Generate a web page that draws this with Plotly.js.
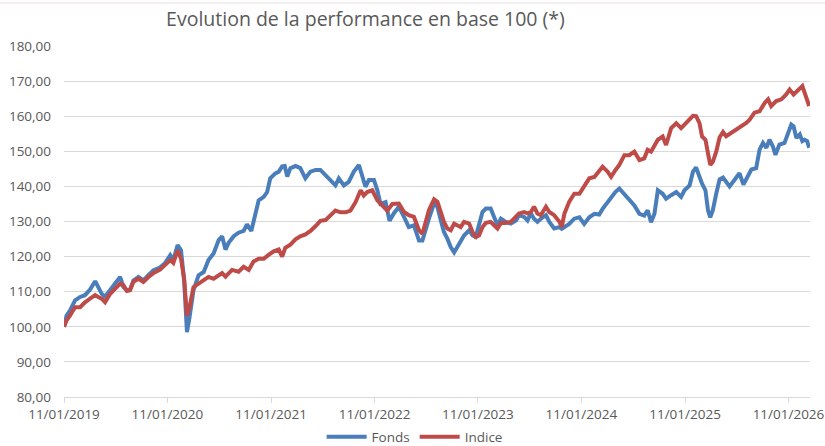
<!DOCTYPE html>
<html>
<head>
<meta charset="utf-8">
<script src="https://cdn.plot.ly/plotly-3.0.1.min.js"></script>
<style>html,body{margin:0;padding:0;background:#fff;}#chart{width:825px;height:446px;}</style>
</head>
<body>
<div id="chart"></div>
<script>
const fondsDates = ['2019-01-11','2019-01-20','2019-02-01','2019-02-19','2019-03-09','2019-03-26','2019-04-13','2019-05-01','2019-05-12','2019-05-24','2019-06-05','2019-06-23','2019-07-10','2019-07-28','2019-08-09','2019-08-21','2019-09-01','2019-09-13','2019-10-01','2019-10-18','2019-11-05','2019-11-23','2019-12-16','2020-01-03','2020-01-21','2020-02-01','2020-02-16','2020-02-28','2020-03-10','2020-03-20','2020-03-29','2020-04-12','2020-04-30','2020-05-18','2020-06-04','2020-06-22','2020-07-10','2020-07-22','2020-08-03','2020-08-14','2020-09-01','2020-09-18','2020-10-06','2020-10-18','2020-11-02','2020-11-14','2020-11-28','2020-12-16','2020-12-28','2021-01-08','2021-01-26','2021-02-07','2021-02-19','2021-02-28','2021-03-09','2021-03-20','2021-04-07','2021-04-24','2021-05-12','2021-05-30','2021-06-17','2021-07-04','2021-07-22','2021-08-09','2021-08-26','2021-09-07','2021-09-25','2021-10-12','2021-10-30','2021-11-17','2021-11-29','2021-12-10','2021-12-22','2022-01-09','2022-01-21','2022-02-01','2022-02-19','2022-03-05','2022-03-20','2022-04-07','2022-04-25','2022-05-12','2022-05-30','2022-06-17','2022-06-29','2022-07-11','2022-07-22','2022-08-09','2022-08-21','2022-09-02','2022-09-13','2022-09-25','2022-10-07','2022-10-19','2022-10-31','2022-11-11','2022-11-23','2022-12-11','2022-12-23','2023-01-03','2023-01-15','2023-01-27','2023-02-08','2023-02-25','2023-03-09','2023-03-21','2023-04-02','2023-04-19','2023-05-07','2023-05-25','2023-06-05','2023-06-23','2023-07-05','2023-07-17','2023-07-28','2023-08-09','2023-08-21','2023-09-08','2023-09-20','2023-10-07','2023-10-25','2023-11-03','2023-11-12','2023-11-29','2023-12-17','2024-01-04','2024-01-21','2024-02-08','2024-02-26','2024-03-14','2024-03-26','2024-04-13','2024-04-25','2024-05-10','2024-05-24','2024-06-11','2024-06-28','2024-07-16','2024-08-03','2024-08-20','2024-09-01','2024-09-13','2024-09-25','2024-10-07','2024-10-24','2024-11-05','2024-11-23','2024-12-11','2024-12-28','2025-01-09','2025-01-27','2025-02-08','2025-02-19','2025-03-03','2025-03-12','2025-03-24','2025-04-02','2025-04-10','2025-04-19','2025-05-01','2025-05-13','2025-05-25','2025-06-05','2025-06-17','2025-07-05','2025-07-22','2025-08-05','2025-08-21','2025-09-02','2025-09-19','2025-10-01','2025-10-13','2025-10-25','2025-11-05','2025-11-17','2025-11-26','2025-12-10','2025-12-28','2026-01-09','2026-01-21','2026-01-29','2026-02-08','2026-02-20','2026-03-01','2026-03-09','2026-03-18','2026-03-25'];
const fonds = [100,103.2,104.6,107.5,108.5,109,110.6,113,111.3,109.4,108.6,110.4,112.3,114.2,111.3,110.4,110.6,113.2,114.2,113.2,114.7,116.1,116.9,118.2,120.4,119,123.3,121.8,113.2,98.5,102.7,110.4,114.7,115.6,119,120.9,124.7,125.8,122,123.9,125.8,126.8,127.3,129.2,127.3,131.2,136,137,138.4,142.3,143.7,144.2,145.7,145.8,142.8,145.2,145.8,145.2,142.3,144.2,144.7,144.7,143.2,141.8,140.3,142.3,140.3,141.3,144.2,146.1,142.8,139.9,141.8,141.8,138.9,135,135.5,130.2,132.3,134.2,131.3,128.4,128.9,124.6,124.6,128.4,130.8,135.1,134.2,130.3,127,125.1,122.7,121.2,122.7,124.1,126,127.5,126,125.6,129.4,132.7,133.7,133.7,131.3,128.9,130.8,129.9,129.4,130.3,131.8,131.3,130.3,132.3,130.8,129.9,130.8,131.8,129.9,128,128.4,127.9,128.4,129.3,130.8,131.2,129.3,131.2,132.2,132,133.6,135.6,137,138.4,139.4,137.9,136.5,134.6,132.2,131.7,133.2,129.8,132.2,138.9,137.9,136.5,137.5,138.4,137,138.9,140.3,144.2,145.4,142.3,140.8,138.9,133.2,131.2,133.2,137.9,142,142.5,141.4,140,141.9,143.8,140.5,142.9,144.8,145.2,150.5,152.4,151,153.3,151.4,149,151.9,152.4,155.2,157.6,157.1,153.8,154.8,152.9,153.3,152.9,151];

const indiceDates = ['2019-01-11','2019-01-20','2019-02-01','2019-02-19','2019-03-09','2019-03-26','2019-04-13','2019-05-01','2019-05-12','2019-05-24','2019-06-05','2019-06-23','2019-07-10','2019-07-28','2019-08-09','2019-08-21','2019-09-01','2019-09-13','2019-10-01','2019-10-18','2019-11-05','2019-11-23','2019-12-16','2020-01-03','2020-01-21','2020-02-01','2020-02-16','2020-02-28','2020-03-10','2020-03-20','2020-03-29','2020-04-12','2020-04-30','2020-05-18','2020-06-04','2020-06-22','2020-07-10','2020-07-22','2020-08-03','2020-08-26','2020-09-18','2020-10-06','2020-10-24','2020-11-10','2020-11-28','2020-12-16','2021-01-02','2021-01-20','2021-02-07','2021-02-19','2021-03-02','2021-03-20','2021-04-07','2021-04-24','2021-05-12','2021-05-30','2021-06-17','2021-07-04','2021-07-22','2021-08-09','2021-08-26','2021-09-13','2021-10-01','2021-10-18','2021-11-05','2021-11-23','2021-12-04','2021-12-16','2022-01-03','2022-01-21','2022-02-07','2022-02-25','2022-03-15','2022-04-07','2022-04-25','2022-05-12','2022-05-30','2022-06-17','2022-06-29','2022-07-11','2022-07-22','2022-08-09','2022-08-21','2022-09-02','2022-09-13','2022-09-25','2022-10-07','2022-10-19','2022-10-31','2022-11-11','2022-11-23','2022-12-11','2022-12-23','2023-01-03','2023-01-15','2023-01-27','2023-02-08','2023-02-25','2023-03-09','2023-03-21','2023-04-02','2023-04-19','2023-05-07','2023-05-25','2023-06-05','2023-06-23','2023-07-05','2023-07-17','2023-07-28','2023-08-09','2023-08-21','2023-09-08','2023-09-20','2023-10-07','2023-10-25','2023-11-03','2023-11-12','2023-11-29','2023-12-17','2024-01-04','2024-01-21','2024-02-08','2024-02-26','2024-03-14','2024-03-26','2024-04-13','2024-04-25','2024-05-10','2024-05-24','2024-06-11','2024-06-28','2024-07-16','2024-08-03','2024-08-20','2024-09-01','2024-09-13','2024-09-25','2024-10-07','2024-10-24','2024-11-05','2024-11-23','2024-12-11','2024-12-28','2025-01-09','2025-01-27','2025-02-08','2025-02-19','2025-03-03','2025-03-12','2025-03-24','2025-04-02','2025-04-10','2025-04-19','2025-05-01','2025-05-13','2025-05-25','2025-06-05','2025-06-23','2025-07-11','2025-07-28','2025-08-15','2025-08-27','2025-09-13','2025-10-01','2025-10-19','2025-10-31','2025-11-11','2025-11-29','2025-12-17','2026-01-03','2026-01-15','2026-01-29','2026-02-14','2026-03-01','2026-03-09','2026-03-18','2026-03-25'];
const indice = [100,101.8,103.2,105.6,105.6,107,108,109,108.5,108,107,109.4,110.8,112.3,111.8,110.2,110.4,112.8,113.7,112.8,114.2,115.3,116.3,117.5,119,118.2,121.8,119.4,113.7,103.2,105.6,111.3,112.3,113.2,114.2,113.7,114.7,115.3,114.3,116.2,115.7,117.1,116.2,118.6,119.4,119.4,120.5,121.5,122,120,122.5,123.4,124.9,125.8,126.3,127.3,128.7,130.2,130.4,131.6,133.1,132.6,132.6,133.1,135.5,138.9,137.4,138.4,138.9,136,134.5,133.1,135,135.1,132.7,131.8,131.3,127.5,126.5,130.3,133.2,136.3,135.6,132.7,129.9,128,127.5,129.4,128.9,128.4,129.9,129.4,127,125.6,126,128.4,129.6,129.9,128.9,128,129.6,129.6,129.9,131.3,132.3,132.7,132.3,132.7,134.2,132.3,131.8,134.2,132.7,131.8,130,128.5,132.2,135.6,137.9,137.9,139.9,142.3,142.7,144.6,145.6,144.2,142.7,144.6,146.1,148.9,148.9,149.9,147.5,148,150.4,149.9,151.8,153.3,154.2,151.8,156.6,158,156.6,157.6,159,160.1,160,158,154.2,153.3,149.4,146.1,147,149.9,154,155.5,154.3,155.2,156.2,157.1,158.1,159,161,161.4,163.8,164.8,162.9,164.3,164.8,166.2,167.6,166.2,167.6,168.6,166.7,164.3,162.9];

const yearTicks = ['2019-01-11','2020-01-11','2021-01-11','2022-01-11','2023-01-11','2024-01-11','2025-01-11','2026-01-11'];
const yTicks = [80,90,100,110,120,130,140,150,160,170,180];
const seriesNames = ['Fonds','Indice'];
const titleText = 'Evolution de la performance en base 100 (*)';

const txt = '#595959';
const fontFam = '"Open Sans", "Liberation Sans", sans-serif';

const traces = [
  {x: fondsDates, y: fonds, name: seriesNames[0], type: 'scatter', mode: 'lines',
   line: {color: '#4a7ebb', width: 4}},
  {x: indiceDates, y: indice, name: seriesNames[1], type: 'scatter', mode: 'lines',
   line: {color: '#be4b48', width: 4}}
];

const layout = {
  width: 825, height: 446,
  margin: {l: 64, r: 15, t: 46, b: 49, autoexpand: false},
  paper_bgcolor: '#fff', plot_bgcolor: '#fff',
  separators: ', ',
  font: {family: fontFam, color: txt, size: 13.5},
  title: {text: titleText, x: 0.443, xref: 'container', xanchor: 'center',
          y: 0.958, yref: 'container', yanchor: 'middle',
          font: {family: fontFam, size: 19.5, color: txt}},
  showlegend: true,
  legend: {orientation: 'h', x: 0.47, xanchor: 'center', y: -0.114, yanchor: 'middle',
           font: {family: fontFam, size: 13.5, color: txt}, itemwidth: 40, bgcolor: 'rgba(0,0,0,0)'},
  xaxis: {type: 'date', range: ['2019-01-11', '2026-03-28'],
          tickvals: yearTicks, tickformat: '%d/%m/%Y',
          showgrid: false, zeroline: false,
          showline: true, linecolor: '#d9d9d9', linewidth: 1,
          ticks: 'outside', ticklen: 5, tickcolor: '#d9d9d9',
          tickfont: {family: fontFam, size: 13.5, color: txt}},
  yaxis: {range: [80, 180], tickvals: yTicks, tickformat: '.2f',
          showgrid: true, gridcolor: '#d9d9d9', gridwidth: 1,
          zeroline: false, showline: false, ticks: '',
          ticklabelstandoff: 12,
          tickfont: {family: fontFam, size: 13.5, color: txt}},
  shapes: [{type: 'line', xref: 'paper', yref: 'paper', x0: -0.09, x1: 1.03, y0: 1.1225, y1: 1.1225,
            line: {color: '#e6dde2', width: 1}}]
};

Plotly.newPlot('chart', traces, layout, {displayModeBar: false, staticPlot: true});
</script>
</body>
</html>
